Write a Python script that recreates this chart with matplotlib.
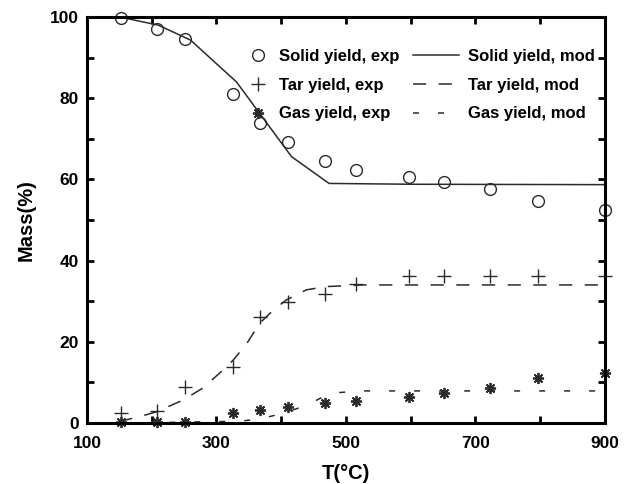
import matplotlib
matplotlib.use("Agg")
import matplotlib.pyplot as plt
from matplotlib.ticker import MultipleLocator, FixedLocator

plt.rcParams['font.family'] = ['Liberation Sans', 'DejaVu Sans']
plt.rcParams['font.weight'] = 'bold'
plt.rcParams['lines.scale_dashes'] = False

# Experimental data
T_solid_exp = [152, 209, 252, 325, 368, 410, 468, 515, 597, 652, 722, 797, 900]
solid_exp = [99.7, 97.0, 94.5, 81.0, 74.0, 69.3, 64.6, 62.3, 60.5, 59.4, 57.6, 54.7, 52.4]

T_tar_exp = [152, 209, 252, 325, 368, 410, 468, 515, 597, 652, 722, 797, 900]
tar_exp = [2.4, 3.0, 8.9, 13.9, 26.2, 29.9, 31.8, 34.2, 36.2, 36.2, 36.2, 36.2, 36.2]

T_gas_exp = [152, 209, 252, 325, 368, 410, 468, 515, 597, 652, 722, 797, 900]
gas_exp = [0.3, 0.3, 0.3, 2.4, 3.2, 4.0, 5.0, 5.4, 6.5, 7.3, 8.5, 11.0, 12.2]

# Model curves
T_solid_mod = [150, 210, 260, 331, 416, 474, 600, 900]
solid_mod = [100.0, 98.0, 94.3, 84.0, 65.6, 59.0, 58.8, 58.7]

T_tar_mod = [150, 180, 208, 249, 279, 305, 326, 347, 367, 388, 408, 439, 470, 527, 900]
tar_mod = [0.4, 1.5, 2.8, 5.7, 8.6, 12.3, 15.5, 19.6, 24.6, 27.8, 30.3, 32.8, 33.6, 34.0, 34.0]

T_gas_mod = [150, 210, 280, 330, 365, 405, 440, 475, 520, 900]
gas_mod = [0.0, 0.1, 0.3, 0.4, 0.9, 2.5, 4.4, 7.3, 7.9, 7.9]

x_tick_labels = [100, 300, 500, 700, 900]
y_tick_labels = [0, 20, 40, 60, 80, 100]

fig = plt.figure(figsize=(6.3, 4.84), dpi=100)
ax = fig.add_axes([0.138, 0.126, 0.822, 0.839])

lc = '#2a2a2a'
h1, = ax.plot(T_solid_exp, solid_exp, linestyle='none', marker='o', ms=8.5,
              mfc='none', mec=lc, mew=1.0, label='Solid yield, exp', clip_on=False)
h2, = ax.plot(T_tar_exp, tar_exp, linestyle='none', marker='+', ms=10,
              mec=lc, mew=1.0, label='Tar yield, exp', clip_on=False)
h3, = ax.plot(T_gas_exp, gas_exp, linestyle='none', marker=(8, 2, 0), ms=8,
              mec=lc, mew=1.3, label='Gas yield, exp', clip_on=False)
h4, = ax.plot(T_solid_mod, solid_mod, '-', color=lc, lw=1.1, label='Solid yield, mod')
h5, = ax.plot(T_tar_mod, tar_mod, color=lc, lw=1.1, dashes=(9.5, 9), label='Tar yield, mod')
h6, = ax.plot(T_gas_mod, gas_mod, color=lc, lw=1.1, dashes=(4.3, 13.7), label='Gas yield, mod')

ax.set_xlim(100, 900)
ax.set_ylim(0, 100)
ax.xaxis.set_major_locator(FixedLocator(x_tick_labels))
ax.xaxis.set_minor_locator(MultipleLocator(100))
ax.yaxis.set_major_locator(FixedLocator(y_tick_labels))
ax.yaxis.set_minor_locator(MultipleLocator(10))
ax.tick_params(which='both', direction='in', top=True, right=True,
               length=5, width=2, labelsize=12.5)
ax.tick_params(axis='x', which='both', pad=9)
ax.tick_params(axis='y', which='both', pad=6)
for s in ax.spines.values():
    s.set_linewidth(2.2)
for lab in ax.get_xticklabels() + ax.get_yticklabels():
    lab.set_fontweight('bold')

ax.set_xlabel('T(°C)', fontsize=14.5, fontweight='bold', labelpad=10)
ax.set_ylabel('Mass(%)', fontsize=14.5, fontweight='bold', labelpad=10)

prop = {'weight': 'bold', 'size': 12}
leg1 = ax.legend(handles=[h1, h2, h3], frameon=False, loc='upper left',
                 bbox_to_anchor=(0.306, 0.921), borderaxespad=0, borderpad=0,
                 prop=prop, handlelength=1.5, labelspacing=0.82, handletextpad=0.5)
ax.add_artist(leg1)
leg2 = ax.legend(handles=[h4, h5, h6], frameon=False, loc='upper left',
                 bbox_to_anchor=(0.629, 0.921), borderaxespad=0, borderpad=0,
                 prop=prop, handlelength=2.8, labelspacing=0.82, handletextpad=0.5)

fig.savefig('out.png', dpi=100)
